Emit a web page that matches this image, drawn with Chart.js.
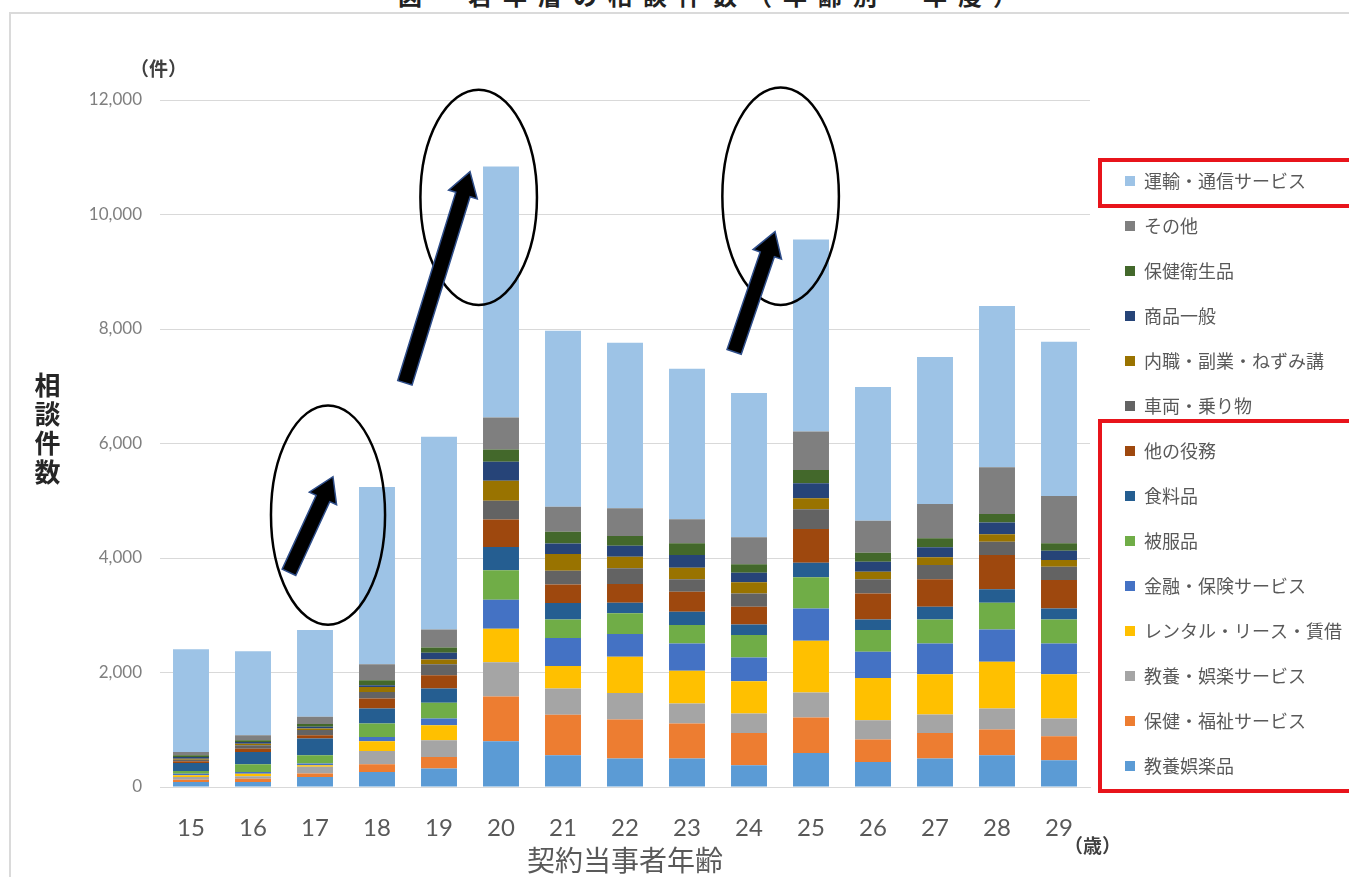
<!DOCTYPE html>
<html lang="ja">
<head>
<meta charset="utf-8">
<title>若年層の相談件数</title>
<script src="https://cdn.jsdelivr.net/npm/chart.js@4.4.1/dist/chart.umd.min.js"></script>
<style>
  html, body { margin: 0; padding: 0; background: #fff; overflow: hidden; }
  #wrap { position: relative; width: 1349px; height: 877px; overflow: hidden; }
  #frame {
    position: absolute; left: 9px; top: 12px; width: 1420px; height: 920px;
    border: 2px solid #dadada; box-sizing: border-box;
  }
  #chart { position: absolute; left: 0; top: 0; }
  .txt {
    position: absolute; white-space: nowrap; line-height: 1;
    font-family: "Noto Sans CJK JP", "Noto Sans", sans-serif;
  }
  #fig-title { left: 398px; top: -17px; font-size: 24px; font-weight: bold; letter-spacing: 11px; color: #222; }
  #unit-y { left: 130px; top: 58px; font-size: 19px; font-weight: bold; color: #404040; }
  #axis-y { left: 34px; top: 372px; font-size: 26px; font-weight: bold; color: #262626;
            writing-mode: vertical-rl; letter-spacing: 3px; }
  #unit-x { left: 1064px; top: 835px; font-size: 19px; font-weight: bold; color: #404040; }
</style>
</head>
<body>
<div id="wrap">
  <div id="frame"></div>
  <div id="fig-title" class="txt">図　若年層の相談件数（年齢別・年度）</div>
  <canvas id="chart" width="1349" height="877"></canvas>
  <div id="unit-y" class="txt">（件）</div>
  <div id="axis-y" class="txt">相談件数</div>
  <div id="unit-x" class="txt">（歳）</div>
</div>

<script>
// ── Data ───────────────────────────────────────────────
const ages = ['15', '16', '17', '18', '19', '20', '21', '22', '23', '24', '25', '26', '27', '28', '29'];

// stacked from the bottom up
const kyoyoGorakuhin  = [87, 87, 175, 262, 321, 800, 554, 496, 496, 380, 595, 437, 496, 554, 467];
const hokenFukushi    = [41, 58, 60, 134, 204, 780, 710, 683, 613, 564, 618, 392, 448, 450, 420];
const kyoyoService    = [47, 41, 117, 233, 292, 600, 455, 465, 349, 340, 437, 338, 322, 367, 309];
const rentalLease     = [29, 47, 29, 169, 262, 585, 396, 630, 571, 565, 904, 739, 705, 815, 775];
const kinyuHoken      = [29, 29, 29, 76, 117, 507, 489, 397, 479, 413, 566, 455, 537, 567, 537];
const hifukuhin       = [47, 134, 146, 233, 274, 513, 321, 362, 320, 391, 542, 380, 419, 465, 419];
const shokuryohin     = [140, 216, 292, 262, 251, 408, 291, 185, 233, 187, 256, 186, 221, 234, 193];
const tanoEkimu       = [29, 58, 58, 175, 233, 479, 322, 327, 350, 308, 589, 455, 479, 601, 495];
const sharyo          = [29, 58, 88, 117, 192, 326, 238, 275, 216, 234, 345, 245, 251, 233, 233];
const naishoku        = [17, 29, 29, 87, 82, 350, 292, 203, 204, 193, 192, 133, 134, 128, 117];
const shohinIppan     = [29, 29, 29, 29, 117, 332, 187, 192, 222, 168, 262, 175, 175, 204, 163];
const hokenEisei      = [29, 29, 47, 87, 93, 216, 203, 170, 204, 147, 233, 158, 157, 152, 129];
const sonota          = [59, 87, 128, 280, 315, 560, 437, 484, 420, 472, 670, 559, 600, 816, 827];
const unyuTsushin     = [1796, 1471, 1514, 3098, 3363, 4382, 3075, 2891, 2628, 2519, 3354, 2333, 2566, 2816, 2692];

const seriesNames = [
  '教養娯楽品', '保健・福祉サービス', '教養・娯楽サービス', 'レンタル・リース・賃借',
  '金融・保険サービス', '被服品', '食料品', '他の役務', '車両・乗り物',
  '内職・副業・ねずみ講', '商品一般', '保健衛生品', 'その他', '運輸・通信サービス'
];
const seriesValues = [
  kyoyoGorakuhin, hokenFukushi, kyoyoService, rentalLease, kinyuHoken, hifukuhin,
  shokuryohin, tanoEkimu, sharyo, naishoku, shohinIppan, hokenEisei, sonota, unyuTsushin
];
const seriesColors = [
  '#5B9BD5', '#ED7D31', '#A5A5A5', '#FFC000', '#4472C4', '#70AD47', '#255E91',
  '#9E480E', '#636363', '#997300', '#264478', '#43682B', '#7F7F7F', '#9DC3E6'
];

const yTicks = [0, 2000, 4000, 6000, 8000, 10000, 12000];

// ── Annotations (age index / count units) ──────────────
const ellipses = [
  { cx: 2.21, cy: 4750, rx: 0.92, ry: 1915 },
  { cx: 4.64, cy: 10300, rx: 0.94, ry: 1880 },
  { cx: 9.51, cy: 10320, rx: 0.94, ry: 1900 },
];
const arrows = [
  { from: [1.58, 3750], to: [2.29, 5420] },
  { from: [3.45, 7060], to: [4.50, 10750] },
  { from: [8.76, 7600], to: [9.42, 9700] },
];
// legend rows framed in red (indexes in legend order, top → bottom)
const redGroups = [
  { first: 0, last: 0, padTop: 12 },
  { first: 6, last: 13, padTop: 21 },
];

const LEGEND_SHIFT = 8;

// ── Plugins ────────────────────────────────────────────
const legendNudge = {
  id: 'legendNudge',
  afterLayout(chart) {
    const lg = chart.legend;
    if (!lg) return;
    lg.left += LEGEND_SHIFT;
    lg.right += LEGEND_SHIFT;
  }
};

const annotations = {
  id: 'annotations',
  afterDatasetsDraw(chart) {
    const { ctx } = chart;
    const xs = chart.scales.x, ys = chart.scales.y;

    // ellipses
    ctx.save();
    ctx.strokeStyle = '#000';
    ctx.lineWidth = 2.5;
    for (const e of ellipses) {
      const cx = xs.getPixelForValue(e.cx);
      const cy = ys.getPixelForValue(e.cy);
      const rx = xs.getPixelForValue(e.cx + e.rx) - cx;
      const ry = ys.getPixelForValue(e.cy - e.ry) - cy;
      ctx.beginPath();
      ctx.ellipse(cx, cy, rx, ry, 0, 0, Math.PI * 2);
      ctx.stroke();
    }

    // thick arrows
    ctx.fillStyle = '#000';
    ctx.strokeStyle = '#2F4E8A';
    ctx.lineWidth = 1.5;
    ctx.lineJoin = 'miter';
    for (const a of arrows) {
      const x1 = xs.getPixelForValue(a.from[0]), y1 = ys.getPixelForValue(a.from[1]);
      const x2 = xs.getPixelForValue(a.to[0]),   y2 = ys.getPixelForValue(a.to[1]);
      const len = Math.hypot(x2 - x1, y2 - y1);
      const ux = (x2 - x1) / len, uy = (y2 - y1) / len;
      const nx = -uy, ny = ux;
      const w = 7.5, hw = 15, hl = 24;
      const bx = x2 - ux * hl, by = y2 - uy * hl;
      ctx.beginPath();
      ctx.moveTo(x1 + nx * w, y1 + ny * w);
      ctx.lineTo(bx + nx * w, by + ny * w);
      ctx.lineTo(bx + nx * hw, by + ny * hw);
      ctx.lineTo(x2, y2);
      ctx.lineTo(bx - nx * hw, by - ny * hw);
      ctx.lineTo(bx - nx * w, by - ny * w);
      ctx.lineTo(x1 - nx * w, y1 - ny * w);
      ctx.closePath();
      ctx.fill();
      ctx.stroke();
    }
    ctx.restore();
  },
  afterDraw(chart) {
    const hb = chart.legend && chart.legend.legendHitBoxes;
    if (!hb || !hb.length) return;
    const { ctx } = chart;
    ctx.save();
    ctx.strokeStyle = '#E8141B';
    ctx.lineWidth = 4;
    for (const g of redGroups) {
      const a = hb[g.first], b = hb[g.last];
      const left = a.left - 25;
      const top = a.top - g.padTop;
      const bottom = b.top + b.height + 16;
      ctx.strokeRect(left, top, chart.width + 20 - left, bottom - top);
    }
    ctx.restore();
  }
};

// ── Chart ──────────────────────────────────────────────
const datasets = seriesNames.map((name, i) => ({
  label: name,
  data: seriesValues[i],
  backgroundColor: seriesColors[i],
  borderWidth: 0,
  barPercentage: 0.58,
  categoryPercentage: 1.0,
}));

new Chart(document.getElementById('chart').getContext('2d'), {
  type: 'bar',
  data: { labels: ages, datasets },
  plugins: [legendNudge, annotations],
  options: {
    responsive: false,
    animation: false,
    devicePixelRatio: 1,
    layout: { padding: { top: 100, right: 5, bottom: 0, left: 0 } },
    scales: {
      x: {
        stacked: true,
        grid: { display: false, drawTicks: false },
        border: { display: true, color: '#d9d9d9', width: 1 },
        ticks: {
          color: '#595959',
          padding: 27,
          font: { family: 'Lato, "Open Sans", sans-serif', size: 24 },
        },
        title: {
          display: true,
          text: '契約当事者年齢',
          color: '#595959',
          padding: { top: 0, bottom: 0 },
          font: { family: '"Noto Sans CJK JP", sans-serif', size: 28 },
        },
        afterFit(scale) { scale.height = 90; },
      },
      y: {
        stacked: true,
        min: 0,
        max: 12000,
        afterBuildTicks(scale) { scale.ticks = yTicks.map(v => ({ value: v })); },
        grid: { color: '#d9d9d9', lineWidth: 1, drawTicks: false },
        border: { display: false },
        ticks: {
          color: '#7f7f7f',
          padding: 18,
          font: { family: 'Lato, "Open Sans", sans-serif', size: 17 },
          callback: (v) => v.toLocaleString('en-US'),
        },
        afterFit(scale) { scale.width = 160; },
      },
    },
    plugins: {
      legend: {
        position: 'right',
        align: 'start',
        reverse: true,
        title: { display: true, text: ' ', font: { size: 10 }, padding: { top: 33, bottom: 0 } },
        labels: {
          boxWidth: 10,
          boxHeight: 10,
          padding: 27,
          color: '#595959',
          font: { family: '"Noto Sans CJK JP", sans-serif', size: 18 },
        },
      },
      tooltip: { enabled: false },
    },
  },
});
</script>
</body>
</html>
